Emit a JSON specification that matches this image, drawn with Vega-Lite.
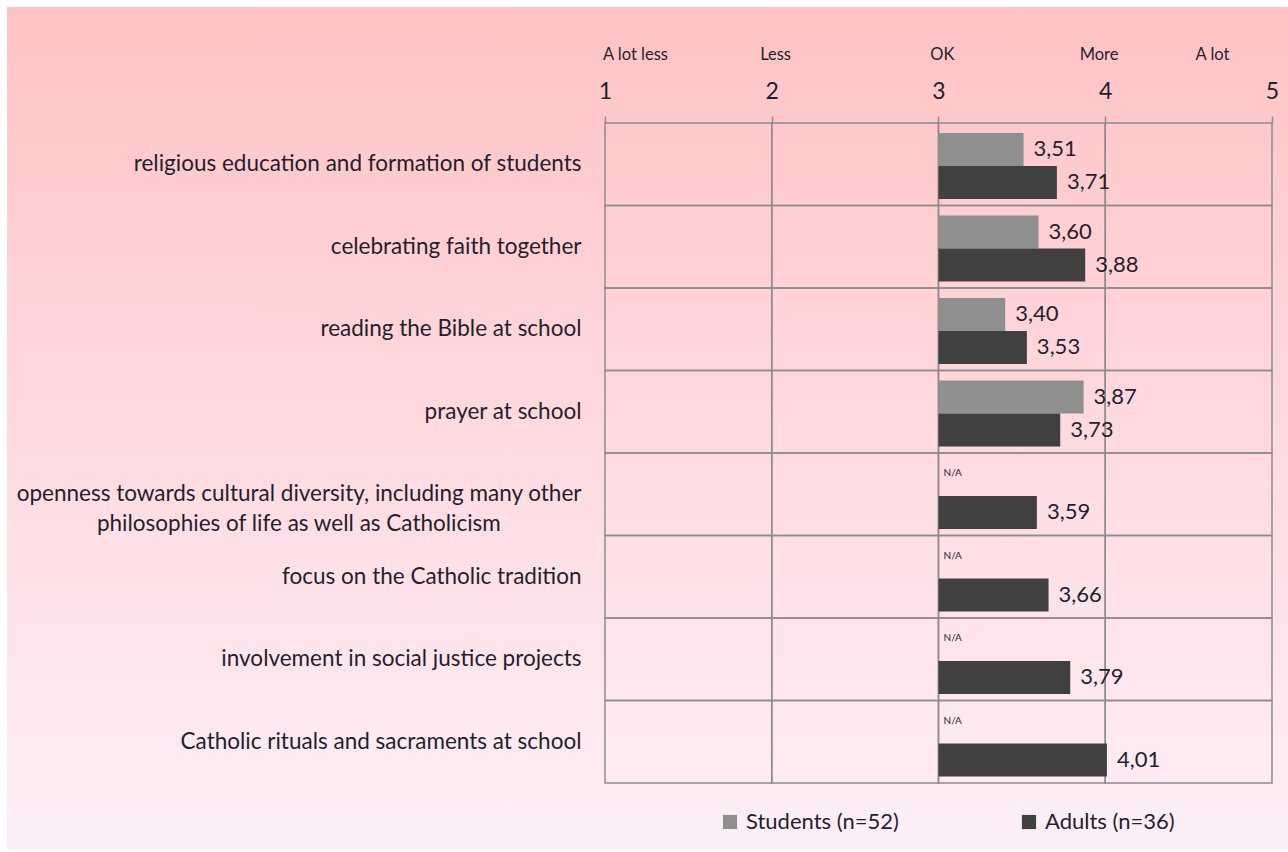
{
  "$schema": "https://vega.github.io/schema/vega-lite/v6.json",
  "autosize": {"type": "none"},
  "width": 1281,
  "height": 843,
  "padding": {"left": 7, "top": 7, "right": 0, "bottom": 2},
  "background": "white",
  "view": {
    "stroke": null,
    "fill": {
      "gradient": "linear", "x1": 0, "y1": 0, "x2": 0, "y2": 1,
      "stops": [{"offset": 0, "color": "#ffc3c3"}, {"offset": 0.5, "color": "#ffdadf"}, {"offset": 1, "color": "#fdeff8"}]
    }
  },
  "config": {
    "locale": {"number": {"decimal": ",", "thousands": ".", "grouping": [3], "currency": ["", " €"]}},
    "font": "Lato",
    "axis": {"labelFont": "Lato", "labelColor": "#1f1f2e"},
    "legend": {"labelFont": "Lato", "labelColor": "#1f1f2e"}
  },
  "datasets": {
    "scores": [
      {"item": "religious education and formation of students", "group": "Students (n=52)", "value": 3.51},
      {"item": "religious education and formation of students", "group": "Adults (n=36)", "value": 3.71},
      {"item": "celebrating faith together", "group": "Students (n=52)", "value": 3.60},
      {"item": "celebrating faith together", "group": "Adults (n=36)", "value": 3.88},
      {"item": "reading the Bible at school", "group": "Students (n=52)", "value": 3.40},
      {"item": "reading the Bible at school", "group": "Adults (n=36)", "value": 3.53},
      {"item": "prayer at school", "group": "Students (n=52)", "value": 3.87},
      {"item": "prayer at school", "group": "Adults (n=36)", "value": 3.73},
      {"item": "openness towards cultural diversity, including many other|philosophies of life as well as Catholicism", "group": "Adults (n=36)", "value": 3.59},
      {"item": "focus on the Catholic tradition", "group": "Adults (n=36)", "value": 3.66},
      {"item": "involvement in social justice projects", "group": "Adults (n=36)", "value": 3.79},
      {"item": "Catholic rituals and sacraments at school", "group": "Adults (n=36)", "value": 4.01}
    ],
    "na": [
      {"item": "openness towards cultural diversity, including many other|philosophies of life as well as Catholicism", "group": "Students (n=52)", "label": "N/A"},
      {"item": "focus on the Catholic tradition", "group": "Students (n=52)", "label": "N/A"},
      {"item": "involvement in social justice projects", "group": "Students (n=52)", "label": "N/A"},
      {"item": "Catholic rituals and sacraments at school", "group": "Students (n=52)", "label": "N/A"}
    ],
    "cells": [
      {"item": "religious education and formation of students", "lo": 1, "hi": 2},
      {"item": "religious education and formation of students", "lo": 2, "hi": 3},
      {"item": "religious education and formation of students", "lo": 3, "hi": 4},
      {"item": "religious education and formation of students", "lo": 4, "hi": 5},
      {"item": "celebrating faith together", "lo": 1, "hi": 2},
      {"item": "celebrating faith together", "lo": 2, "hi": 3},
      {"item": "celebrating faith together", "lo": 3, "hi": 4},
      {"item": "celebrating faith together", "lo": 4, "hi": 5},
      {"item": "reading the Bible at school", "lo": 1, "hi": 2},
      {"item": "reading the Bible at school", "lo": 2, "hi": 3},
      {"item": "reading the Bible at school", "lo": 3, "hi": 4},
      {"item": "reading the Bible at school", "lo": 4, "hi": 5},
      {"item": "prayer at school", "lo": 1, "hi": 2},
      {"item": "prayer at school", "lo": 2, "hi": 3},
      {"item": "prayer at school", "lo": 3, "hi": 4},
      {"item": "prayer at school", "lo": 4, "hi": 5},
      {"item": "openness towards cultural diversity, including many other|philosophies of life as well as Catholicism", "lo": 1, "hi": 2},
      {"item": "openness towards cultural diversity, including many other|philosophies of life as well as Catholicism", "lo": 2, "hi": 3},
      {"item": "openness towards cultural diversity, including many other|philosophies of life as well as Catholicism", "lo": 3, "hi": 4},
      {"item": "openness towards cultural diversity, including many other|philosophies of life as well as Catholicism", "lo": 4, "hi": 5},
      {"item": "focus on the Catholic tradition", "lo": 1, "hi": 2},
      {"item": "focus on the Catholic tradition", "lo": 2, "hi": 3},
      {"item": "focus on the Catholic tradition", "lo": 3, "hi": 4},
      {"item": "focus on the Catholic tradition", "lo": 4, "hi": 5},
      {"item": "involvement in social justice projects", "lo": 1, "hi": 2},
      {"item": "involvement in social justice projects", "lo": 2, "hi": 3},
      {"item": "involvement in social justice projects", "lo": 3, "hi": 4},
      {"item": "involvement in social justice projects", "lo": 4, "hi": 5},
      {"item": "Catholic rituals and sacraments at school", "lo": 1, "hi": 2},
      {"item": "Catholic rituals and sacraments at school", "lo": 2, "hi": 3},
      {"item": "Catholic rituals and sacraments at school", "lo": 3, "hi": 4},
      {"item": "Catholic rituals and sacraments at school", "lo": 4, "hi": 5}
    ]
  },
  "resolve": {"axis": {"x": "independent"}},
  "layer": [
    {
      "data": {"name": "cells"},
      "mark": {"type": "rect", "fill": "transparent", "stroke": "#8c8c8c", "strokeWidth": 1.5},
      "encoding": {
        "x": {
          "field": "lo", "type": "quantitative",
          "scale": {"domain": [-2.5862, 5.096], "nice": false, "zero": false},
          "axis": {
            "orient": "top", "offset": -116, "values": [1, 2, 3, 4, 5], "format": "d",
            "title": null, "grid": false, "domain": false,
            "ticks": true, "tickSize": 7, "tickColor": "#8c8c8c", "tickWidth": 1.5,
            "labelFontSize": 23, "labelPadding": 13, "labelFlush": false
          }
        },
        "x2": {"field": "hi"},
        "y": {
          "field": "item", "type": "nominal",
          "scale": {
            "domain": [
              "religious education and formation of students",
              "celebrating faith together",
              "reading the Bible at school",
              "prayer at school",
              "openness towards cultural diversity, including many other|philosophies of life as well as Catholicism",
              "focus on the Catholic tradition",
              "involvement in social justice projects",
              "Catholic rituals and sacraments at school"
            ],
            "range": [116, 776],
            "paddingInner": 0, "paddingOuter": 0
          },
          "axis": {
            "orient": "left", "offset": -576, "title": null, "domain": false, "ticks": false, "tickSize": 0,
            "labelPadding": 2, "labelFontSize": 22.5, "labelLineHeight": 30, "labelLimit": 700,
            "labelExpr": "indexof(datum.label, '|') > 0 ? [split(datum.label, '|')[0], split(datum.label, '|')[1] + '\u00a0\u00a0\u00a0\u00a0\u00a0\u00a0\u00a0\u00a0\u00a0\u00a0\u00a0\u00a0\u00a0\u00a0\u200b'] : datum.label"
          }
        }
      }
    },
    {
      "data": {"name": "scores"},
      "mark": {"type": "bar"},
      "encoding": {
        "x": {"field": "value", "type": "quantitative", "axis": null},
        "x2": {"datum": 3},
        "y": {"field": "item", "type": "nominal"},
        "yOffset": {
          "field": "group", "type": "nominal",
          "sort": ["Students (n=52)", "Adults (n=36)"],
          "scale": {"domain": ["Students (n=52)", "Adults (n=36)"], "paddingInner": 0, "paddingOuter": 0.25, "align": 0.6}
        },
        "color": {
          "field": "group", "type": "nominal",
          "scale": {"domain": ["Students (n=52)", "Adults (n=36)"], "range": ["#8f8f8f", "#404040"]},
          "legend": {
            "orient": "none", "legendX": 712, "legendY": 804, "direction": "horizontal", "title": null,
            "symbolType": "square", "symbolSize": 200, "symbolStrokeWidth": 0,
            "labelFontSize": 22, "labelOffset": 5, "columnPadding": 119, "padding": 0
          }
        }
      }
    },
    {
      "data": {"name": "scores"},
      "mark": {"type": "text", "align": "left", "baseline": "middle", "dx": 10, "fontSize": 22, "color": "#1f1f2e", "font": "Lato"},
      "encoding": {
        "x": {"field": "value", "type": "quantitative", "axis": null},
        "y": {"field": "item", "type": "nominal"},
        "yOffset": {"field": "group", "type": "nominal", "sort": ["Students (n=52)", "Adults (n=36)"]},
        "text": {"field": "value", "type": "quantitative", "format": ".2f"}
      }
    },
    {
      "data": {"name": "na"},
      "mark": {"type": "text", "align": "left", "baseline": "middle", "dx": 5, "dy": -6, "fontSize": 10, "color": "#1f1f2e", "font": "Lato"},
      "encoding": {
        "x": {
          "datum": 3, "type": "quantitative",
          "axis": {
            "orient": "top", "offset": -116, "values": [1.18, 2.02, 3.02, 3.96, 4.64],
            "labelExpr": "datum.value < 1.5 ? 'A lot less' : datum.value < 2.5 ? 'Less' : datum.value < 3.5 ? 'OK' : datum.value < 4.3 ? 'More' : 'A lot'",
            "title": null, "grid": false, "domain": false, "ticks": false, "tickSize": 0,
            "labelFontSize": 16.5, "labelPadding": 60.5, "labelFlush": false
          }
        },
        "y": {"field": "item", "type": "nominal"},
        "yOffset": {"field": "group", "type": "nominal", "sort": ["Students (n=52)", "Adults (n=36)"]},
        "text": {"field": "label"}
      }
    }
  ]
}
